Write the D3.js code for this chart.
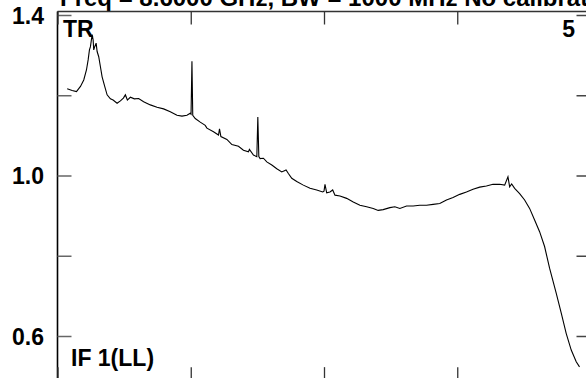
<!DOCTYPE html>
<html><head><meta charset="utf-8">
<script src="https://cdn.jsdelivr.net/npm/d3@7"></script>
<style>html,body{margin:0;padding:0;background:#fff;overflow:hidden}</style>
</head><body><svg id="c" width="586" height="378"></svg>
<script>
// ---- data ----
const channels = [9.7,14.7,19,23,26.3,29,30.7,32,33,34.7,35.7,36.3,37.3,38.7,39.7,41.3,43,44.7,47.3,49.7,
 53,55.7,59.7,63,66,68,70,73,77,81.3,86.3,93,99.7,106.3,113,119.7,124.7,129.7,133,133.8,
 134.7,135.5,138,143,148,149.7,156.3,161.3,162.3,163.7,169.7,174.7,181.3,186.3,191.3,192.3,196.3,199.7,200.7,201.7,
 203,206.3,209.7,214.7,219.7,224.7,229,231.3,234.7,239.7,246.3,253,259.7,265.7,267,268,269.7,273,275.7,278,
 283,289.7,296.3,303,309.7,316.3,321.3,326.3,333,338,343,349.7,356.3,363,369.7,376.3,383,389.7,396.3,403,
 409.7,416.3,423,429.7,436.3,443,448,451.3,453,455,458,463,468,473,478,483,488,493,499.7,504.7,
 509.7,514.7,519.7,523];
const amplitudes = [1.216,1.212,1.209,1.222,1.238,1.263,1.288,1.313,1.321,1.351,1.338,1.313,1.321,1.330,1.309,1.296,1.271,1.246,1.222,1.201,
 1.191,1.188,1.180,1.186,1.193,1.201,1.188,1.195,1.191,1.192,1.184,1.176,1.170,1.166,1.159,1.150,1.148,1.150,1.155,1.153,
 1.285,1.150,1.142,1.133,1.125,1.118,1.109,1.101,1.116,1.097,1.090,1.077,1.073,1.063,1.059,1.065,1.051,1.047,1.146,1.047,
 1.042,1.043,1.034,1.026,1.017,1.009,1.014,1.005,0.993,0.985,0.976,0.968,0.964,0.959,0.961,0.978,0.957,0.959,0.964,0.951,
 0.949,0.943,0.934,0.926,0.922,0.918,0.913,0.915,0.920,0.922,0.918,0.924,0.924,0.926,0.926,0.928,0.930,0.939,0.945,0.953,
 0.959,0.966,0.971,0.974,0.978,0.978,0.976,0.997,0.972,0.979,0.968,0.955,0.939,0.918,0.889,0.860,0.823,0.769,0.706,0.657,
 0.606,0.565,0.536,0.523];
const yTickValues = [0.6, 0.8, 1.0, 1.2, 1.4];
const yTickLabels = ["0.6", "", "1.0", "", "1.4"];
const xTickValues = [0, 133.5, 267, 400.5, 534];
const xDomain = [0, 534];
const yFrame = [0.49, 1.41];
const titleText = "Freq = 8.6000 GHz, BW = 1000 MHz  No calibration";
const labelTopLeft = "TR";
const labelTopRight = "5";
const labelBottomLeft = "IF 1(LL)";

// ---- drawing ----
const svg = d3.select("#c");
const x = d3.scaleLinear().domain(xDomain).range([57.5, 590.5]);
const y = d3.scaleLinear().domain([0.6, 1.4]).range([336, 15]);
const fontFam = "'Liberation Sans', Arial, Helvetica, sans-serif";

// title (mostly cut off at top, as in the original)
svg.append("text").attr("x", 60).attr("y", 6)
  .attr("font-family", fontFam).attr("font-weight", "bold").attr("font-size", 24)
  .attr("fill", "#000").text(titleText);

// frame lines
const fx0 = x(xDomain[0]), fx1 = x(xDomain[1]);
const fy0 = Math.round(y(yFrame[1])) + 0.5, fy1 = y(yFrame[0]);
svg.append("line").attr("x1", fx0).attr("x2", fx1 + 2).attr("y1", fy0).attr("y2", fy0)
  .attr("stroke", "#333").attr("stroke-width", 1.5);
svg.append("line").attr("x1", fx0).attr("x2", fx0).attr("y1", fy0).attr("y2", fy1)
  .attr("stroke", "#000").attr("stroke-width", 1.6);
svg.append("line").attr("x1", fx1).attr("x2", fx1).attr("y1", fy0).attr("y2", fy1)
  .attr("stroke", "#000").attr("stroke-width", 1.6);

// y ticks (inward) left and right
const leftAxis = d3.axisRight(y).tickValues(yTickValues).tickSize(14).tickSizeOuter(0).tickFormat("");
svg.append("g").attr("transform", `translate(${fx0},0)`).call(leftAxis)
  .call(g => g.select(".domain").remove())
  .call(g => g.selectAll(".tick line").attr("stroke", "#666").attr("stroke-width", 1.5));
const rightAxis = d3.axisLeft(y).tickValues(yTickValues).tickSize(14).tickSizeOuter(0).tickFormat("");
svg.append("g").attr("transform", `translate(${fx1},0)`).call(rightAxis)
  .call(g => g.select(".domain").remove())
  .call(g => g.selectAll(".tick line").attr("stroke", "#444").attr("stroke-width", 1.5));

// x ticks (inward) top and bottom
const topAxis = d3.axisBottom(x).tickValues(xTickValues).tickSize(13).tickSizeOuter(0).tickFormat("");
svg.append("g").attr("transform", `translate(0,${fy0})`).call(topAxis)
  .call(g => g.select(".domain").remove())
  .call(g => g.selectAll(".tick line").attr("stroke", "#333").attr("stroke-width", 1.3));
const botAxis = d3.axisTop(x).tickValues(xTickValues).tickSize(13).tickSizeOuter(0).tickFormat("");
svg.append("g").attr("transform", `translate(0,${fy1})`).call(botAxis)
  .call(g => g.select(".domain").remove())
  .call(g => g.selectAll(".tick line").attr("stroke", "#333").attr("stroke-width", 1.3));

// y labels
svg.append("g").selectAll("text").data(yTickValues).join("text")
  .attr("x", 44).attr("y", d => y(d) + 8.5)
  .attr("text-anchor", "end")
  .attr("font-family", fontFam).attr("font-weight", "bold").attr("font-size", 23)
  .text((d, i) => yTickLabels[i]);

// spectrum line
const pts = channels.map((c, i) => [c, amplitudes[i]]);
svg.append("path").datum(pts)
  .attr("fill", "none").attr("stroke", "#000").attr("stroke-width", 1.1)
  .attr("d", d3.line().x(d => x(d[0])).y(d => y(d[1])));

// corner labels
const lab = (t, xx, yy, anchor) => svg.append("text").attr("x", xx).attr("y", yy)
  .attr("text-anchor", anchor).attr("font-family", fontFam).attr("font-weight", "bold")
  .attr("font-size", 23).attr("fill", "#000").text(t);
lab(labelTopLeft, 63, 37, "start");
lab(labelTopRight, 575, 37, "end");
lab(labelBottomLeft, 71, 366, "start");
</script>
</body></html>
